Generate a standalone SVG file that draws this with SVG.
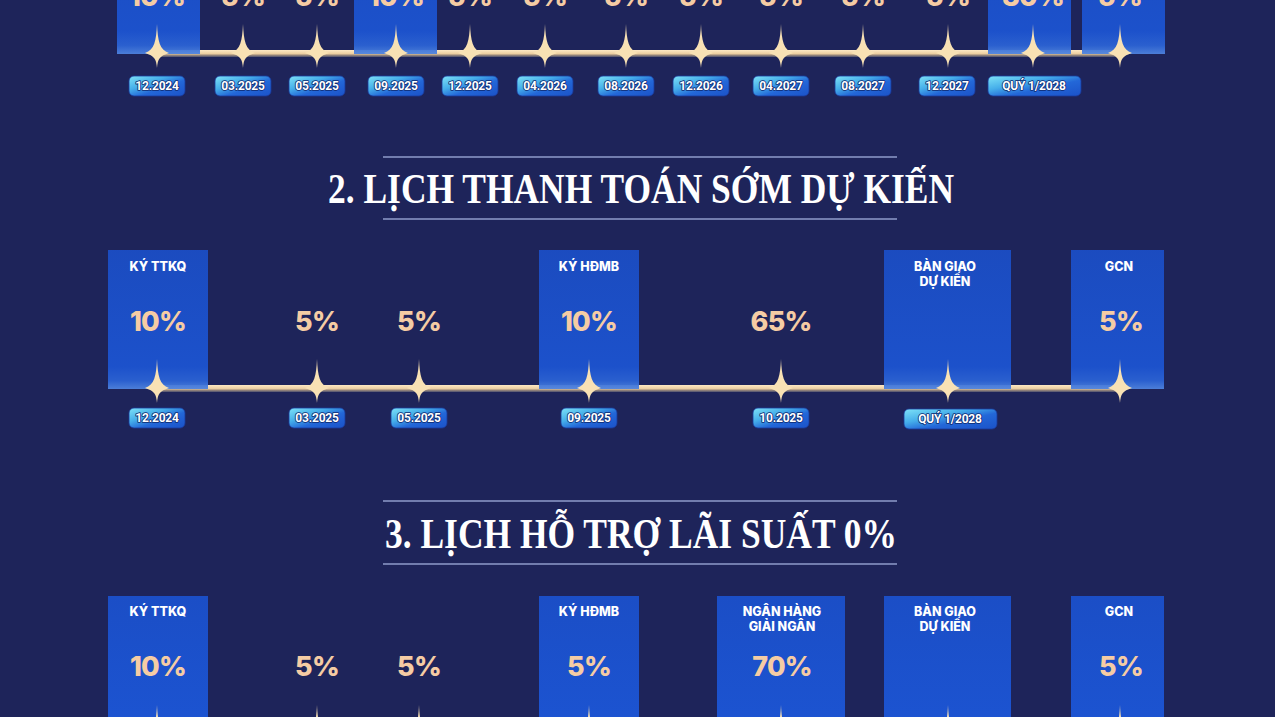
<svg xmlns="http://www.w3.org/2000/svg" width="1275" height="717" viewBox="0 0 1275 717">
<defs>
<linearGradient id="gBox" x1="0" y1="0" x2="0" y2="1">
<stop offset="0" stop-color="#1b4ec6"/>
<stop offset="0.84" stop-color="#1c54d2"/>
<stop offset="0.94" stop-color="#2b63d6"/>
<stop offset="1" stop-color="#4f84e0"/>
</linearGradient>
<linearGradient id="gBox3" x1="0" y1="0" x2="0" y2="1">
<stop offset="0" stop-color="#1b4ec6"/>
<stop offset="1" stop-color="#1c54d2"/>
</linearGradient>
<linearGradient id="gPill" x1="0" y1="0" x2="1" y2="1">
<stop offset="0" stop-color="#7fe3f7"/>
<stop offset="0.35" stop-color="#45aeea"/>
<stop offset="0.6" stop-color="#2367d8"/>
<stop offset="1" stop-color="#1b52c8"/>
</linearGradient>
<linearGradient id="gLine" x1="0" y1="0" x2="0" y2="1">
<stop offset="0" stop-color="#fde8c4"/>
<stop offset="0.55" stop-color="#ebcda0"/>
<stop offset="0.72" stop-color="#a08d7c"/>
<stop offset="1" stop-color="#4d5072"/>
</linearGradient>
<path id="star" d="M0,-29 C0.8,-12 2.5,-3 12,0 C2.5,3 0.8,6 0,15 C-0.8,6 -2.5,3 -12,0 C-2.5,-3 -0.8,-12 0,-29 Z" fill="#f8e1b4"/>
</defs>
<style>
.box{fill:url(#gBox);opacity:0.94}
.box3{fill:url(#gBox3)}
.pill{fill:url(#gPill);stroke:#1a3a9a;stroke-width:0.8}
.date{font-family:Roboto,"Liberation Sans",sans-serif;font-weight:700;font-size:12px;fill:#ffffff;text-anchor:middle;stroke:#0d2a70;stroke-width:1.6px;paint-order:stroke;stroke-linejoin:round;letter-spacing:-0.2px}
.pct{font-family:Inter,"Liberation Sans",sans-serif;font-weight:800;font-size:27px;fill:#f5cca4;text-anchor:middle;letter-spacing:-0.8px}
.lbl{font-family:Inter,"Liberation Sans",sans-serif;font-weight:800;font-size:12.5px;fill:#ffffff;text-anchor:middle}
.title{font-family:"Liberation Serif","DejaVu Serif",serif;font-weight:700;font-size:42px;fill:#ffffff;text-anchor:middle}
.rule{stroke:#8f9bcb;stroke-width:1.5}
</style>
<rect x="0" y="0" width="1275" height="717" fill="#1e245a"/>

<!-- connectors: timelines -->
<g id="connectors">
<rect x="157" y="50" width="966" height="7" fill="url(#gLine)"/>
<rect x="157" y="385" width="966" height="7" fill="url(#gLine)"/>
</g>

<!-- Section 1 -->
<g id="s1-boxes">
<rect class="box" x="117" y="-90" width="83" height="144"/>
<rect class="box" x="354" y="-90" width="83" height="144"/>
<rect class="box" x="988" y="-90" width="83" height="144"/>
<rect class="box" x="1082" y="-90" width="83" height="144"/>
</g>
<g id="s1-n1"><text class="pct" x="157" y="6">10%</text><use href="#star" x="157" y="53"/><rect class="pill" x="129" y="76" width="56" height="20" rx="5"/><text class="date" x="157" y="90">12.2024</text></g>
<g id="s1-n2"><text class="pct" x="243" y="6">5%</text><use href="#star" x="243" y="53"/><rect class="pill" x="215" y="76" width="56" height="20" rx="5"/><text class="date" x="243" y="90">03.2025</text></g>
<g id="s1-n3"><text class="pct" x="317" y="6">5%</text><use href="#star" x="317" y="53"/><rect class="pill" x="289" y="76" width="56" height="20" rx="5"/><text class="date" x="317" y="90">05.2025</text></g>
<g id="s1-n4"><text class="pct" x="396" y="6">10%</text><use href="#star" x="396" y="53"/><rect class="pill" x="368" y="76" width="56" height="20" rx="5"/><text class="date" x="396" y="90">09.2025</text></g>
<g id="s1-n5"><text class="pct" x="470" y="6">5%</text><use href="#star" x="470" y="53"/><rect class="pill" x="442" y="76" width="56" height="20" rx="5"/><text class="date" x="470" y="90">12.2025</text></g>
<g id="s1-n6"><text class="pct" x="545" y="6">5%</text><use href="#star" x="545" y="53"/><rect class="pill" x="517" y="76" width="56" height="20" rx="5"/><text class="date" x="545" y="90">04.2026</text></g>
<g id="s1-n7"><text class="pct" x="626" y="6">5%</text><use href="#star" x="626" y="53"/><rect class="pill" x="598" y="76" width="56" height="20" rx="5"/><text class="date" x="626" y="90">08.2026</text></g>
<g id="s1-n8"><text class="pct" x="701" y="6">5%</text><use href="#star" x="701" y="53"/><rect class="pill" x="673" y="76" width="56" height="20" rx="5"/><text class="date" x="701" y="90">12.2026</text></g>
<g id="s1-n9"><text class="pct" x="781" y="6">5%</text><use href="#star" x="781" y="53"/><rect class="pill" x="753" y="76" width="56" height="20" rx="5"/><text class="date" x="781" y="90">04.2027</text></g>
<g id="s1-n10"><text class="pct" x="863" y="6">5%</text><use href="#star" x="863" y="53"/><rect class="pill" x="835" y="76" width="56" height="20" rx="5"/><text class="date" x="863" y="90">08.2027</text></g>
<g id="s1-n11"><text class="pct" x="948" y="6">5%</text><use href="#star" x="948" y="53"/><rect class="pill" x="919" y="76" width="56" height="20" rx="5"/><text class="date" x="947" y="90">12.2027</text></g>
<g id="s1-n12"><text class="pct" x="1033" y="6">30%</text><use href="#star" x="1033" y="53"/><rect class="pill" x="988" y="76" width="93" height="20" rx="5"/><text class="date" x="1034" y="90">QUÝ 1/2028</text></g>
<g id="s1-n13"><text class="pct" x="1120" y="6">5%</text><use href="#star" x="1120" y="53"/></g>

<!-- Title 2 -->
<g id="title2">
<line class="rule" x1="383" y1="157" x2="897" y2="157"/>
<text class="title" x="641" y="203" textLength="626" lengthAdjust="spacingAndGlyphs">2. LỊCH THANH TOÁN SỚM DỰ KIẾN</text>
<line class="rule" x1="383" y1="219" x2="897" y2="219"/>
</g>

<!-- Section 2 -->
<g id="s2-n1"><rect class="box" x="108" y="250" width="100" height="139"/><text class="lbl" x="158" y="271">KÝ TTKQ</text><text class="pct" x="158" y="331">10%</text><use href="#star" x="157" y="388"/><rect class="pill" x="129" y="408" width="56" height="20" rx="5"/><text class="date" x="157" y="422">12.2024</text></g>
<g id="s2-n2"><text class="pct" x="317" y="331">5%</text><use href="#star" x="317" y="388"/><rect class="pill" x="289" y="408" width="56" height="20" rx="5"/><text class="date" x="317" y="422">03.2025</text></g>
<g id="s2-n3"><text class="pct" x="419" y="331">5%</text><use href="#star" x="419" y="388"/><rect class="pill" x="391" y="408" width="56" height="20" rx="5"/><text class="date" x="419" y="422">05.2025</text></g>
<g id="s2-n4"><rect class="box" x="539" y="250" width="100" height="139"/><text class="lbl" x="589" y="271">KÝ HĐMB</text><text class="pct" x="589" y="331">10%</text><use href="#star" x="589" y="388"/><rect class="pill" x="561" y="408" width="56" height="20" rx="5"/><text class="date" x="589" y="422">09.2025</text></g>
<g id="s2-n5"><text class="pct" x="781" y="331">65%</text><use href="#star" x="781" y="388"/><rect class="pill" x="753" y="408" width="56" height="20" rx="5"/><text class="date" x="781" y="422">10.2025</text></g>
<g id="s2-n6"><rect class="box" x="884" y="250" width="127" height="139"/><text class="lbl" x="945" y="271">BÀN GIAO</text><text class="lbl" x="945" y="286">DỰ KIẾN</text><use href="#star" x="948" y="388"/><rect class="pill" x="904" y="409" width="93" height="20" rx="5"/><text class="date" x="950" y="423">QUÝ 1/2028</text></g>
<g id="s2-n7"><rect class="box" x="1071" y="250" width="93" height="139"/><text class="lbl" x="1119" y="271">GCN</text><text class="pct" x="1121" y="331">5%</text><use href="#star" x="1120" y="388"/></g>

<!-- Title 3 -->
<g id="title3">
<line class="rule" x1="383" y1="501" x2="897" y2="501"/>
<text class="title" x="641" y="548" textLength="512" lengthAdjust="spacingAndGlyphs">3. LỊCH HỖ TRỢ LÃI SUẤT 0%</text>
<line class="rule" x1="383" y1="564" x2="897" y2="564"/>
</g>

<!-- Section 3 -->
<g id="s3-n1"><rect class="box3" x="108" y="596" width="100" height="140"/><text class="lbl" x="158" y="616">KÝ TTKQ</text><text class="pct" x="158" y="676">10%</text><use href="#star" x="157" y="734"/></g>
<g id="s3-n2"><text class="pct" x="317" y="676">5%</text><use href="#star" x="317" y="734"/></g>
<g id="s3-n3"><text class="pct" x="419" y="676">5%</text><use href="#star" x="419" y="734"/></g>
<g id="s3-n4"><rect class="box3" x="539" y="596" width="100" height="140"/><text class="lbl" x="589" y="616">KÝ HĐMB</text><text class="pct" x="589" y="676">5%</text><use href="#star" x="589" y="734"/></g>
<g id="s3-n5"><rect class="box3" x="717" y="596" width="128" height="140"/><text class="lbl" x="782" y="616">NGÂN HÀNG</text><text class="lbl" x="782" y="631">GIẢI NGÂN</text><text class="pct" x="782" y="676">70%</text><use href="#star" x="781" y="734"/></g>
<g id="s3-n6"><rect class="box3" x="884" y="596" width="127" height="140"/><text class="lbl" x="945" y="616">BÀN GIAO</text><text class="lbl" x="945" y="631">DỰ KIẾN</text><use href="#star" x="948" y="734"/></g>
<g id="s3-n7"><rect class="box3" x="1071" y="596" width="93" height="140"/><text class="lbl" x="1119" y="616">GCN</text><text class="pct" x="1121" y="676">5%</text><use href="#star" x="1120" y="734"/></g>
</svg>
